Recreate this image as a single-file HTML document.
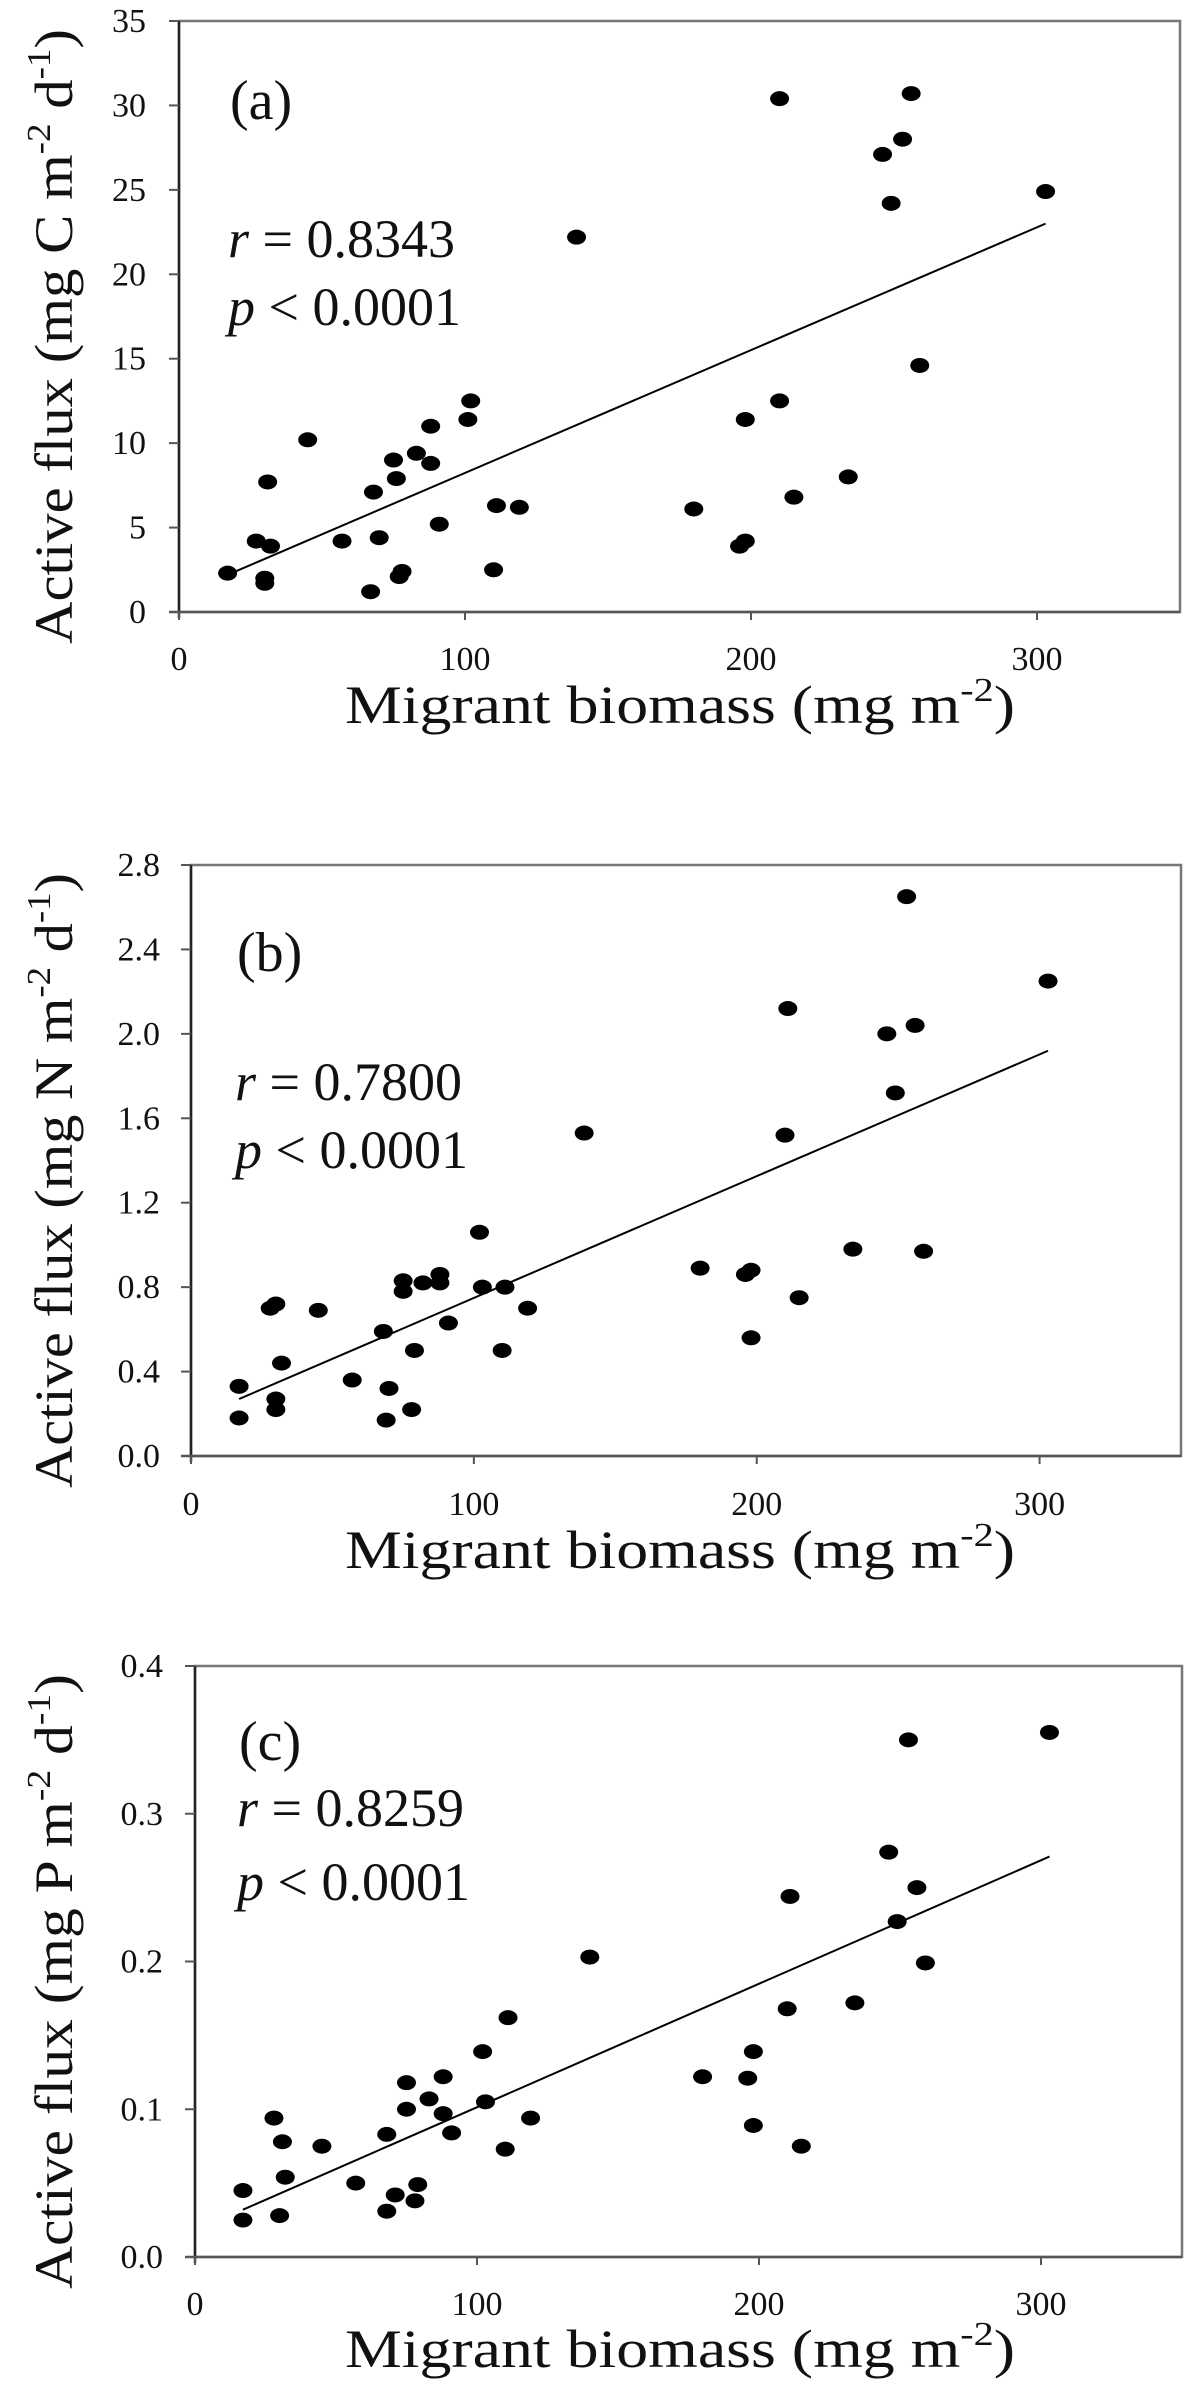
<!DOCTYPE html>
<html><head><meta charset="utf-8">
<style>
html,body{margin:0;padding:0;background:#fff;}
svg{display:block;}
text{font-family:"Liberation Serif","Times New Roman",serif;fill:#111;}
</style></head>
<body>
<svg id="fig" width="1188" height="2390" viewBox="0 0 1188 2390" xmlns="http://www.w3.org/2000/svg"></svg>
<script>
// ---- Panel (a) data: Carbon ----
const aX = [17,27,30,30,31,32,45,57,67,68,70,75,76,77,78,83,88,88,91,101,102,110,111,119,139,180,196,198,198,210,210,215,234,246,249,253,256,259,303];
const aY = [2.3,4.2,2.0,1.7,7.7,3.9,10.2,4.2,1.2,7.1,4.4,9.0,7.9,2.1,2.4,9.4,8.8,11.0,5.2,11.4,12.5,2.5,6.3,6.2,22.2,6.1,3.9,4.2,11.4,12.5,30.4,6.8,8.0,27.1,24.2,28.0,30.7,14.6,24.9];
const aFitX = [17,303];
const aFitY = [2.2,23.0];
const aTicksY = ["0","5","10","15","20","25","30","35"];
// ---- Panel (b) data: Nitrogen ----
const bX = [17,17,28,30,30,30,32,45,57,68,69,70,75,75,78,79,82,88,88,91,102,103,110,111,119,139,180,196,198,198,210,211,215,234,246,249,253,256,259,303];
const bY = [0.33,0.18,0.70,0.72,0.27,0.22,0.44,0.69,0.36,0.59,0.17,0.32,0.83,0.78,0.22,0.50,0.82,0.82,0.86,0.63,1.06,0.80,0.50,0.80,0.70,1.53,0.89,0.86,0.88,0.56,1.52,2.12,0.75,0.98,2.00,1.72,2.65,2.04,0.97,2.25];
const bFitX = [17,303];
const bFitY = [0.27,1.92];
const bTicksY = ["0.0","0.4","0.8","1.2","1.6","2.0","2.4","2.8"];
// ---- Panel (c) data: Phosphorus ----
const cX = [17,17,28,30,31,32,45,57,68,68,71,75,75,78,79,83,88,88,91,102,103,110,111,119,140,180,196,198,198,210,211,215,234,246,249,253,256,259,303];
const cY = [0.045,0.025,0.094,0.028,0.078,0.054,0.075,0.050,0.083,0.031,0.042,0.118,0.100,0.038,0.049,0.107,0.122,0.097,0.084,0.139,0.105,0.073,0.162,0.094,0.203,0.122,0.121,0.139,0.089,0.168,0.244,0.075,0.172,0.274,0.227,0.350,0.250,0.199,0.355];
const cFitX = [17,303];
const cFitY = [0.032,0.271];
const cTicksY = ["0.0","0.1","0.2","0.3","0.4"];
const ticksX = ["0","100","200","300"];

const NS = "http://www.w3.org/2000/svg";
const svg = document.getElementById("fig");
function mk(tag, attrs, parent){
  const e = document.createElementNS(NS, tag);
  for (const k in attrs) e.setAttribute(k, attrs[k]);
  (parent||svg).appendChild(e);
  return e;
}

function panel(cfg){
  const g = mk("g", {});
  
  
  const xs = v => cfg.x0 + (v/350)*(cfg.x1 - cfg.x0);
  const ys = v => cfg.yb - (v/cfg.ymax)*(cfg.yb - cfg.yt);
  // frame
  const fr = mk("rect", {x:cfg.x0, y:cfg.yt, width:cfg.x1-cfg.x0, height:cfg.yb-cfg.yt, fill:"none", stroke:"#777", "stroke-width":2.5}, g);
  
  
  const ya = mk("line", {x1:cfg.x0, y1:cfg.yt, x2:cfg.x0, y2:cfg.yb+6, stroke:"#222", "stroke-width":2.5}, g);
  
  
  const xa = mk("line", {x1:cfg.x0-10, y1:cfg.yb, x2:cfg.x1, y2:cfg.yb, stroke:"#555", "stroke-width":2.5}, g);
  
  
  // y ticks
  cfg.ticksY.forEach(t => {
    const y = ys(parseFloat(t));
    mk("line", {x1:cfg.x0-10, y1:y, x2:cfg.x0, y2:y, stroke:"#555", "stroke-width":2}, g);
    const tx = mk("text", {x:cfg.labR, y:y+11, "text-anchor":"end", "font-size":34}, g);
    tx.textContent = t;
    
    
  });
  // x ticks
  ticksX.forEach(t => {
    const x = xs(parseFloat(t));
    mk("line", {x1:x, y1:cfg.yb, x2:x, y2:cfg.yb+8, stroke:"#555", "stroke-width":2}, g);
    const tx = mk("text", {x:x, y:cfg.xlabY, "text-anchor":"middle", "font-size":34}, g);
    tx.textContent = t;
    
    
  });
  // regression line
  const ln = mk("line", {x1:xs(cfg.fitX[0]), y1:ys(cfg.fitY[0]), x2:xs(cfg.fitX[1]), y2:ys(cfg.fitY[1]), stroke:"#000", "stroke-width":2}, g);
  
  
  // points
  cfg.X.forEach((v,i) => {
    const p = mk("ellipse", {cx:xs(v), cy:ys(cfg.Y[i]), rx:9.5, ry:7.5, fill:"#000"}, g);
    
    
  });
  // panel letter
  const lt = mk("text", {x:cfg.letX, y:cfg.letY, "font-size":56}, g);
  lt.textContent = "(" + cfg.id + ")";
  
  
  const r = mk("text", {x:cfg.letX-2, y:cfg.rY, "font-size":54}, g);
  r.innerHTML = '<tspan font-style="italic">r</tspan> = ' + cfg.r;
  
  
  const p = mk("text", {x:cfg.letX-2, y:cfg.pY, "font-size":54}, g);
  p.innerHTML = '<tspan font-style="italic">p</tspan> &lt; 0.0001';
  
  
  // x title
  const xt = mk("text", {x:345, y:cfg.xtY, "font-size":54, textLength:670, lengthAdjust:"spacingAndGlyphs"}, g);
  xt.innerHTML = 'Migrant biomass (mg m<tspan font-size="34" dy="-22">-2</tspan><tspan dy="22">)</tspan>';
  
  
  // y title
  const cy = (cfg.yt + cfg.yb)/2 + 20;
  const yt = mk("text", {x:0, y:0, "font-size":54, "text-anchor":"middle", textLength:615, lengthAdjust:"spacingAndGlyphs", transform:"translate(72," + cy + ") rotate(-90)"}, g);
  yt.innerHTML = 'Active flux (mg ' + cfg.el + ' m<tspan font-size="34" dy="-22">-2</tspan><tspan dy="22"> d</tspan><tspan font-size="34" dy="-22">-1</tspan><tspan dy="22">)</tspan>';
  
  
}

panel({id:"a", el:"C", X:aX, Y:aY, fitX:aFitX, fitY:aFitY, ticksY:aTicksY, ymax:35,
  x0:179, x1:1180, yt:21, yb:612, labR:146, xlabY:670, xtY:723,
  letX:230, letY:119, rY:257, pY:325, r:"0.8343"});
panel({id:"b", el:"N", X:bX, Y:bY, fitX:bFitX, fitY:bFitY, ticksY:bTicksY, ymax:2.8,
  x0:191, x1:1181, yt:865, yb:1456, labR:160, xlabY:1515, xtY:1568,
  letX:237, letY:971, rY:1100, pY:1168, r:"0.7800"});
panel({id:"c", el:"P", X:cX, Y:cY, fitX:cFitX, fitY:cFitY, ticksY:cTicksY, ymax:0.4,
  x0:195, x1:1182, yt:1666, yb:2257, labR:163, xlabY:2315, xtY:2367,
  letX:239, letY:1760, rY:1826, pY:1900, r:"0.8259"});
</script>
</body></html>
